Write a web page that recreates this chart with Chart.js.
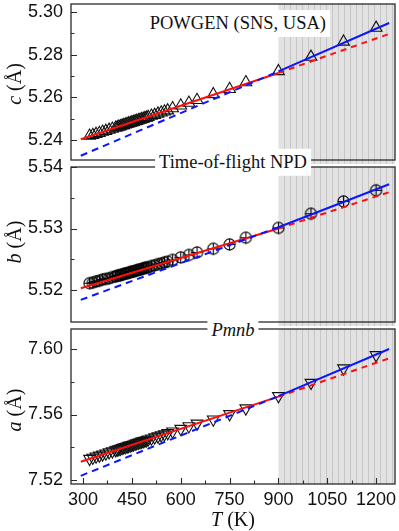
<!DOCTYPE html>
<html lang="en">
<head>
<meta charset="UTF-8">
<title>Lattice parameters vs T</title>
<script src="https://cdn.jsdelivr.net/npm/chart.js"></script>
<style>
  html, body { margin: 0; padding: 0; background: #fff; }
  #fig { position: relative; width: 399px; height: 531px; overflow: hidden; font-family: 'Liberation Serif', serif; color: #111; }
  #fig canvas { position: absolute; left: 0; }
  .lbl { position: absolute; white-space: nowrap; font-size: 18.5px; line-height: 1; z-index: 2; }
  .box { background: #fff; padding: 4px 4px; }
  .center { transform: translate(-50%, -50%); }
  .ytitle { position: absolute; font-size: 20px; line-height: 1; white-space: nowrap; transform: translate(-50%, -50%) rotate(-90deg); z-index: 2; }
</style>
</head>
<body>
<div id="fig">
  <canvas id="chartC" width="399" height="164" style="top:0"></canvas>
  <canvas id="chartB" width="399" height="176" style="top:150px"></canvas>
  <canvas id="chartA" width="399" height="221" style="top:310px"></canvas>

  <div class="lbl box" style="right:69px; top:10px;">POWGEN (SNS, USA)</div>
  <div class="lbl box center" style="left:233px; top:162px;">Time-of-flight NPD</div>
  <div class="lbl box center" style="left:233px; top:330px;"><i>Pmnb</i></div>

  <div class="ytitle" style="left:14px; top:84px;"><i>c</i> (Å)</div>
  <div class="ytitle" style="left:14px; top:242px;"><i>b</i> (Å)</div>
  <div class="ytitle" style="left:14px; top:410px;"><i>a</i> (Å)</div>
  <div class="lbl center" style="left:233px; top:519px; font-size:20px;"><i>T</i> (K)</div>
</div>

<script>
// mesures (K)
const temps = [320, 330, 340, 350, 360, 370, 380, 390, 400, 405, 410, 415, 420, 425, 430, 435, 440, 445, 450, 455,
               460, 465, 470, 475, 480, 485, 490, 495, 500, 510, 520, 530, 540, 550, 560, 575, 600, 625, 650, 700,
               750, 800, 900, 1000, 1100, 1200];

const cVals = [5.2419, 5.2423, 5.2428, 5.2432, 5.2438, 5.2442, 5.2447, 5.2452, 5.2457, 5.2459, 5.2462, 5.2464, 5.2467, 5.2469, 5.2472, 5.2474, 5.2477, 5.2479, 5.2482, 5.2484,
               5.2487, 5.2489, 5.2492, 5.2494, 5.2497, 5.2499, 5.2502, 5.2504, 5.2507, 5.2513, 5.2517, 5.2523, 5.2528, 5.2533, 5.2538, 5.2548, 5.2561, 5.2574, 5.2587, 5.2614,
               5.2638, 5.2670, 5.2722, 5.2789, 5.2860, 5.2925];

const bVals = [5.5211, 5.5212, 5.5214, 5.5215, 5.5217, 5.5218, 5.5219, 5.5221, 5.5222, 5.5223, 5.5224, 5.5224, 5.5225, 5.5226, 5.5227, 5.5227, 5.5228, 5.5229, 5.5230, 5.5230,
               5.5231, 5.5232, 5.5233, 5.5233, 5.5234, 5.5235, 5.5236, 5.5236, 5.5237, 5.5239, 5.5240, 5.5242, 5.5243, 5.5245, 5.5246, 5.5249, 5.5253, 5.5257, 5.5261, 5.5267,
               5.5274, 5.5285, 5.5301, 5.5324, 5.5344, 5.5362];

const aVals = [7.5330, 7.5337, 7.5344, 7.5350, 7.5357, 7.5363, 7.5370, 7.5376, 7.5383, 7.5386, 7.5389, 7.5392, 7.5396, 7.5399, 7.5402, 7.5405, 7.5409, 7.5412, 7.5415, 7.5418,
               7.5422, 7.5425, 7.5428, 7.5431, 7.5435, 7.5438, 7.5441, 7.5444, 7.5448, 7.5454, 7.5461, 7.5467, 7.5474, 7.5480, 7.5487, 7.5497, 7.5513, 7.5529, 7.5545, 7.5570,
               7.5603, 7.5638, 7.5713, 7.5794, 7.5882, 7.5963];

// ajustements (rouge : basse T, bleu : haute T)
const fitT  = [293, 900, 1240];
const cRed  = [5.2403, 5.2714, 5.2897];
const cBlue = [5.2326, 5.2721, 5.2948];
const bRed  = [5.5203, 5.5300, 5.5359];
const bBlue = [5.5184, 5.5302, 5.5372];
const aRed  = [7.5312, 7.5709, 7.5943];
const aBlue = [7.5226, 7.5712, 7.6000];

// graduations
const xTicks = [300, 450, 600, 750, 900, 1050, 1200];
const xMinor = [375, 525, 675, 825, 975, 1125];
const cTicks = [5.24, 5.26, 5.28, 5.30];
const cMinor = [5.25, 5.27, 5.29];
const bTicks = [5.52, 5.53, 5.54];
const bMinor = [5.525, 5.535];
const aTicks = [7.52, 7.56, 7.60];
const aMinor = [7.54, 7.58];

const shadeFrom = 900;

Chart.defaults.font.family = "'Liberation Sans', Arial, sans-serif";

function pts(xs, ys) {
    return xs.map((x, i) => ({ x: x, y: ys[i] }));
}

// marqueur cercle + croix
function circlePlus() {
    const c = document.createElement('canvas');
    c.width = 15; c.height = 15;
    const g = c.getContext('2d');
    g.strokeStyle = '#000';
    g.lineWidth = 1.1;
    g.beginPath(); g.arc(7.5, 7.5, 5.6, 0, Math.PI * 2); g.stroke();
    g.beginPath();
    g.moveTo(7.5, 1.9); g.lineTo(7.5, 13.1);
    g.moveTo(1.9, 7.5); g.lineTo(13.1, 7.5);
    g.stroke();
    return c;
}

function framePlugin(p) {
    return {
        id: 'frame',
        beforeDatasetsDraw(chart) {
            const { ctx, chartArea: a, scales: { x } } = chart;
            const x0 = x.getPixelForValue(shadeFrom);
            const top = a.top;
            const bottom = a.bottom + p.gapBottom;
            ctx.save();
            ctx.fillStyle = '#e2e2e2';
            ctx.fillRect(x0, top, a.right - x0, bottom - top);
            ctx.strokeStyle = '#c6c6c6';
            ctx.lineWidth = 1;
            for (let px = Math.round(x0) + 6; px < a.right; px += 6) {
                ctx.beginPath();
                ctx.moveTo(px + 0.5, top);
                ctx.lineTo(px + 0.5, bottom);
                ctx.stroke();
            }
            ctx.restore();
        },
        afterDatasetsDraw(chart) {
            const { ctx, chartArea: a, scales: { x, y } } = chart;
            ctx.save();
            ctx.strokeStyle = '#2a2a2a';
            ctx.lineWidth = 1.3;
            ctx.strokeRect(a.left, a.top, a.right - a.left, a.bottom - a.top);
            ctx.lineWidth = 1.1;
            ctx.beginPath();
            p.yTicks.forEach(v => {
                const py = Math.round(y.getPixelForValue(v)) + 0.5;
                ctx.moveTo(a.left, py); ctx.lineTo(a.left + 6, py);
            });
            p.yMinor.forEach(v => {
                const py = Math.round(y.getPixelForValue(v)) + 0.5;
                ctx.moveTo(a.left, py); ctx.lineTo(a.left + 3.5, py);
            });
            if (p.showX) {
                xTicks.forEach(v => {
                    const px = Math.round(x.getPixelForValue(v)) + 0.5;
                    ctx.moveTo(px, a.bottom); ctx.lineTo(px, a.bottom - 6);
                });
                xMinor.forEach(v => {
                    const px = Math.round(x.getPixelForValue(v)) + 0.5;
                    ctx.moveTo(px, a.bottom); ctx.lineTo(px, a.bottom - 3.5);
                });
            }
            ctx.stroke();
            ctx.restore();
        }
    };
}

function makePanel(id, p) {
    const ctx = document.getElementById(id).getContext('2d');
    return new Chart(ctx, {
        type: 'scatter',
        data: {
            datasets: [
                {
                    type: 'line',
                    data: pts(fitT, p.blue),
                    borderColor: '#0b16ff',
                    borderWidth: 2,
                    pointRadius: 0,
                    segment: { borderDash: s => s.p0.parsed.x < shadeFrom ? [7, 5] : undefined }
                },
                {
                    type: 'line',
                    data: pts(fitT, p.red),
                    borderColor: '#ff0d0d',
                    borderWidth: 2,
                    pointRadius: 0,
                    segment: { borderDash: s => s.p0.parsed.x < shadeFrom ? undefined : [6, 5] }
                },
                {
                    data: pts(temps, p.vals),
                    pointStyle: p.marker,
                    pointRadius: p.radius,
                    rotation: p.rotation,
                    borderColor: '#111',
                    backgroundColor: 'rgba(0,0,0,0)',
                    borderWidth: 1.1
                }
            ]
        },
        options: {
            responsive: false,
            animation: false,
            events: [],
            layout: { autoPadding: false, padding: { top: p.padTop, bottom: p.padBottom, left: 0, right: 4 } },
            plugins: { legend: { display: false }, tooltip: { enabled: false } },
            scales: {
                x: {
                    type: 'linear',
                    min: 263,
                    max: 1258,
                    display: p.showX,
                    afterBuildTicks: s => { s.ticks = xTicks.map(v => ({ value: v })); },
                    afterFit: s => {
                        if (!p.showX) return;
                        s.height = 47; s.paddingLeft = 0; s.paddingRight = 0;
                    },
                    ticks: { font: { size: 18 }, color: '#111', padding: 5, maxRotation: 0, autoSkip: false, callback: v => String(v) },
                    grid: { display: false, drawTicks: false },
                    border: { display: false }
                },
                y: {
                    min: p.yMin,
                    max: p.yMax,
                    afterBuildTicks: s => { s.ticks = p.yTicks.map(v => ({ value: v })); },
                    afterFit: s => { s.width = 71; s.paddingTop = 0; s.paddingBottom = 0; },
                    ticks: { font: { size: 18 }, color: '#111', padding: 8, callback: v => v.toFixed(2) },
                    grid: { display: false, drawTicks: false },
                    border: { display: false }
                }
            }
        },
        plugins: [framePlugin(p)]
    });
}

makePanel('chartC', {
    vals: cVals, red: cRed, blue: cBlue,
    yMin: 5.2306, yMax: 5.3037, yTicks: cTicks, yMinor: cMinor,
    marker: 'triangle', radius: 6.8, rotation: 0,
    padTop: 4, padBottom: 4, gapBottom: 7, showX: false
});

makePanel('chartB', {
    vals: bVals, red: bRed, blue: bBlue,
    yMin: 5.5148, yMax: 5.54, yTicks: bTicks, yMinor: bMinor,
    marker: circlePlus(), radius: 6, rotation: 0,
    padTop: 17, padBottom: 4, gapBottom: 7, showX: false
});

makePanel('chartA', {
    vals: aVals, red: aRed, blue: aBlue,
    yMin: 7.5176, yMax: 7.6122, yTicks: aTicks, yMinor: aMinor,
    marker: 'triangle', radius: 6.8, rotation: 180,
    padTop: 19, padBottom: 0, gapBottom: 0, showX: true
});
</script>
</body>
</html>
